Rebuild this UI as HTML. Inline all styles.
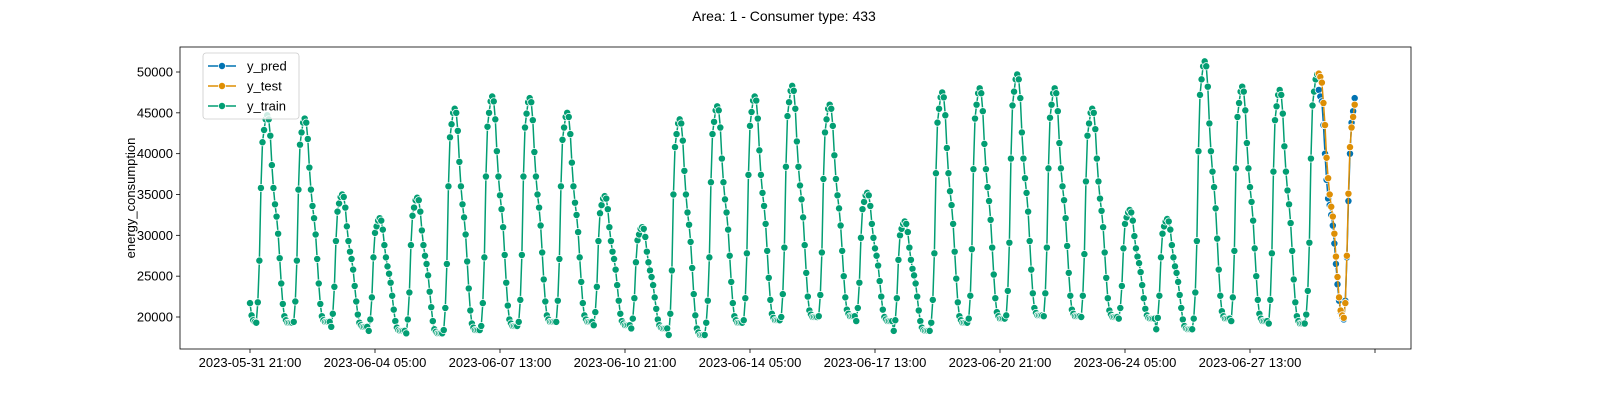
<!DOCTYPE html>
<html><head><meta charset="utf-8"><style>
html,body{margin:0;padding:0;background:#fff;}
svg{display:block;font-family:"Liberation Sans","DejaVu Sans",sans-serif;}
</style></head><body>
<svg id="chart" width="1600" height="400" viewBox="0 0 1600 400">
<text x="784" y="21" text-anchor="middle" font-size="14">Area: 1 - Consumer type: 433</text>
<g id="axes"></g>
<g id="series"></g>
<g id="legend"></g>
</svg>
<script>
const startHourLabel = "2023-05-31 21:00";
const xTickLabels = ["2023-05-31 21:00","2023-06-04 05:00","2023-06-07 13:00","2023-06-10 21:00","2023-06-14 05:00","2023-06-17 13:00","2023-06-20 21:00","2023-06-24 05:00","2023-06-27 13:00",""];
const xTickHours = [0,80,160,240,320,400,480,560,640,720];
const yTicks = [20000,25000,30000,35000,40000,45000,50000];
const yTrain = [21700,20200,19600,19400,
19300,21800,26900,35800,41400,42900,44200,44700,44200,42200,38600,35800,33800,32300,30200,27200,24100,21600,20100,19600,19300,19300,19300,19300,
19400,21900,26900,35600,41100,42600,43800,44300,43800,41800,38300,35600,33600,32100,30100,27100,24100,21600,20100,19600,19400,19400,19400,19400,
18800,20400,23700,29300,32900,33900,34700,35000,34700,33400,31100,29300,28000,27100,25800,23800,21900,20300,19300,19000,18800,18800,18800,18800,
18300,19700,22400,27300,30300,31100,31800,32100,31800,30700,28800,27300,26200,25300,24200,22600,20900,19500,18700,18400,18300,18300,18300,18300,
18000,19700,23000,28800,32400,33400,34300,34600,34300,32900,30600,28800,27500,26500,25100,23100,21200,19500,18500,18200,18000,18000,18000,18000,
18400,21100,26500,36000,42000,43600,45000,45500,45000,42800,39000,36000,33800,32200,30100,26800,23500,20800,19200,18700,18400,18400,18400,18400,
18900,21700,27300,37200,43300,45000,46400,47000,46400,44200,40300,37200,34900,33200,31000,27600,24200,21400,19700,19200,18900,18900,18900,18900,
19400,22100,27600,37200,43200,44900,46300,46800,46300,44100,40200,37200,35000,33400,31200,27900,24600,21900,20200,19700,19400,19400,19400,19400,
19400,22000,27100,36000,41700,43200,44500,45000,44500,42400,38900,36000,34000,32500,30400,27300,24300,21700,20200,19700,19400,19400,19400,19400,
19000,20600,23700,29300,32700,33700,34500,34800,34500,33200,31000,29300,28000,27100,25800,23900,22000,20400,19500,19200,19000,19000,19000,19000,
18600,19800,22300,26700,29400,30100,30800,31000,30800,29800,28000,26700,25700,24900,23900,22400,21000,19700,19000,18700,18600,18600,18600,18600,
17800,20400,25700,35000,40800,42400,43700,44200,43700,41600,37900,35000,32800,31300,29200,26000,22800,20200,18600,18100,17800,17800,17800,17800,
19300,22000,27300,36500,42400,43900,45300,45800,45300,43200,39400,36500,34400,32800,30700,27500,24300,21700,20100,19600,19300,19300,19300,19300,
19600,22300,27800,37400,43400,45100,46500,47000,46500,44300,40400,37400,35200,33600,31400,28100,24800,22100,20400,19900,19600,19600,19600,19600,
20000,22800,28500,38400,44600,46300,47700,48300,47700,45500,41500,38400,36100,34400,32200,28800,25400,22500,20800,20300,20000,20000,20000,20000,
20100,22700,27900,36900,42600,44200,45500,46000,45500,43400,39800,36900,34900,33300,31200,28100,25000,22400,20900,20400,20100,20100,20100,20100,
19500,21100,24200,29700,33200,34100,34900,35200,34900,33600,31400,29700,28400,27500,26300,24400,22500,20900,20000,19700,19500,19500,19500,19500,
18300,19600,22300,27000,30000,30800,31400,31700,31400,30400,28500,27000,25900,25100,24100,22500,20800,19500,18700,18400,18300,18300,18300,18300,
19300,22100,27800,37600,43800,45500,46900,47500,46900,44700,40700,37600,35400,33700,31400,28000,24700,21800,20100,19600,19300,19300,19300,19300,
19800,22600,28300,38100,44300,46000,47400,48000,47400,45200,41200,38100,35900,34200,31900,28500,25200,22300,20600,20100,19800,19800,19800,19800,
20200,23200,29100,39400,45900,47600,49100,49700,49100,46800,42600,39400,37000,35200,32900,29300,25800,22900,21100,20500,20200,20200,20200,20200,
20100,22900,28500,38200,44400,46000,47400,48000,47400,45200,41300,38200,36000,34300,32100,28700,25400,22600,20900,20400,20100,20100,20100,20100,
20000,22600,27700,36600,42200,43700,45000,45500,45000,43000,39400,36600,34500,33000,31000,27900,24800,22300,20800,20300,20000,20000,20000,20000,
19800,21100,23800,28400,31400,32200,32800,33100,32800,31800,29900,28400,27400,26600,25500,23900,22300,21000,20200,19900,19800,19800,19800,19800,
18500,19900,22600,27300,30200,31100,31700,32000,31700,30700,28800,27300,26200,25400,24300,22700,21100,19700,18900,18600,18500,18500,18500,18500,
19800,23000,29300,40300,47200,49100,50700,51300,50700,48200,43700,40300,37800,35900,33300,29600,25800,22600,20700,20100,19800,19800,19800,19800,
19500,22400,28100,38200,44500,46200,47600,48200,47600,45300,41300,38200,35900,34100,31800,28400,25000,22100,20400,19800,19500,19500,19500,19500,
19200,22100,27800,37800,44100,45800,47200,47800,47200,44900,40900,37800,35500,33800,31500,28100,24600,21800,20100,19500,19200,19200,19200,19200,
20300,23200,29100,39400,45900,47600,49100,49700];
const yTest = [49800,49400,48700,46200,43500,39500,37000,35000,33500,32300,30200,27400,24900,22400,20800,20200,19900,21700,27500,35100,40800,43200,44500,46000];
const yPred = [47800,47000,46400,43500,40000,36800,34500,33700,32500,31200,29000,26500,24000,22000,20600,20000,19700,22000,27300,34200,40000,43800,45200,46800];

const L=180,R=1411,T=47,B=349;
const NS="http://www.w3.org/2000/svg";
const x0=250, pxPerHour=125/80;
function xScale(h){return x0+h*pxPerHour;}
function yScale(v){return 72+(50000-v)*(245/30000);}
function mk(tag,attrs,parent){const e=document.createElementNS(NS,tag);for(const k in attrs)e.setAttribute(k,attrs[k]);parent.appendChild(e);return e;}
const axes=document.getElementById('axes');
const frame=mk('rect',{x:L,y:T,width:R-L,height:B-T,fill:'none',stroke:'#000','stroke-width':0.8},axes);


yTicks.forEach(v=>{
  const y=yScale(v);
  const tk=mk('line',{x1:L-4,x2:L,y1:y,y2:y,stroke:'#000','stroke-width':0.8},axes);
  
  
  const t=mk('text',{x:L-7,y:y+4.5,'text-anchor':'end','font-size':13},axes);
  t.textContent=v;
  
  
});
xTickHours.forEach((h,i)=>{
  const x=xScale(h);
  const tk=mk('line',{x1:x,x2:x,y1:B,y2:B+4,stroke:'#000','stroke-width':0.8},axes);
  
  
  const t=mk('text',{x:x,y:B+18,'text-anchor':'middle','font-size':13},axes);
  t.textContent=xTickLabels[i];
  
  
});
const yl=mk('text',{x:0,y:0,'text-anchor':'middle','font-size':13,transform:'translate(135,198) rotate(-90)'},axes);
yl.textContent='energy_consumption';



const series=document.getElementById('series');
function drawSeries(vals,offset,color,name){
  const g=mk('g',{},series);
  
  
  const pts=vals.map((v,i)=>xScale(offset+i).toFixed(2)+','+yScale(v).toFixed(2)).join(' ');
  const pl=mk('polyline',{points:pts,fill:'none',stroke:color,'stroke-width':1.5},g);
  
  
  vals.forEach((v,i)=>{
    const c=mk('circle',{cx:xScale(offset+i),cy:yScale(v),r:3.6,fill:color,stroke:'#fff','stroke-width':0.75},g);
    
    
  });
}
drawSeries(yTrain,0,'#029e73','y-train');
drawSeries(yPred,yTrain.length,'#0173b2','y-pred');
drawSeries(yTest,yTrain.length,'#de8f05','y-test');

const lg=document.getElementById('legend');
const lbox=mk('rect',{x:203,y:53,width:96,height:66,rx:3,fill:'#fff','fill-opacity':0.8,stroke:'#ccc','stroke-width':0.8},lg);


[['y_pred','#0173b2'],['y_test','#de8f05'],['y_train','#029e73']].forEach((e,i)=>{
  const y=66+i*20;
  const g=mk('g',{},lg);
  
  
  mk('line',{x1:208,x2:236,y1:y,y2:y,stroke:e[1],'stroke-width':1.5},g);
  mk('circle',{cx:222,cy:y,r:3.6,fill:e[1],stroke:'#fff','stroke-width':0.75},g);
  const t=mk('text',{x:247,y:y+4.5,'font-size':13},g);
  t.textContent=e[0];
});
</script>
</body></html>
